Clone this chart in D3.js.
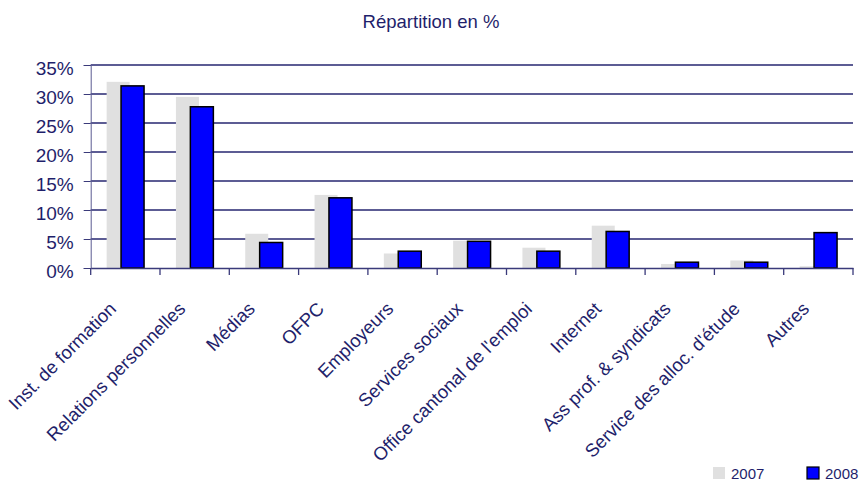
<!DOCTYPE html>
<html>
<head>
<meta charset="utf-8">
<title>Répartition en %</title>
<script src="https://cdn.jsdelivr.net/npm/d3@7"></script>
<style>
  body { margin: 0; background: #fff; }
  text { font-family: "Liberation Sans", Arial, sans-serif; fill: #1f1f6b; }
</style>
</head>
<body>
<svg id="svg"></svg>
<script>
// data
var categories = ["Inst. de formation", "Relations personnelles", "Médias", "OFPC",
                  "Employeurs", "Services sociaux", "Office cantonal de l'emploi",
                  "Internet", "Ass prof. & syndicats", "Service des alloc. d'étude", "Autres"];
var values2007 = [32.1, 29.5, 5.9, 12.6, 2.5, 4.7, 3.5, 7.3, 0.7, 1.3, 0.3];
var values2008 = [31.4, 27.8, 4.4, 12.1, 2.9, 4.6, 2.9, 6.3, 1.0, 1.0, 6.1];
var seriesNames = ["2007", "2008"];
var yTicks = [0, 5, 10, 15, 20, 25, 30, 35];
var title = "Répartition en %";

var width = 860, height = 481,
    margins = {top: 65, left: 90.7, right: 7, bottom: 213};

var svg = d3.select("#svg")
    .attr("width", width)
    .attr("height", height);

var scaleX = d3.scaleBand()
    .domain(categories)
    .range([margins.left, width - margins.right])
    .padding(0);

var scaleY = d3.scaleLinear()
    .domain([0, 35])
    .range([height - margins.bottom, margins.top]);

var bw = scaleX.bandwidth(),
    barW = bw * 0.332,
    step = bw * 0.208;

// title
svg.append("text")
    .attr("x", 431)
    .attr("y", 28)
    .style("text-anchor", "middle")
    .style("font-size", "18.5px")
    .text(title);

// gridlines
svg.append("g")
    .selectAll("line")
    .data(yTicks.slice(1))
    .enter().append("line")
    .attr("x1", margins.left)
    .attr("x2", width - margins.right)
    .attr("y1", function(d) { return scaleY(d); })
    .attr("y2", function(d) { return scaleY(d); })
    .attr("stroke", "#262670")
    .attr("stroke-width", 1.4);

// Y axis
var axisY = d3.axisLeft(scaleY)
    .tickValues(yTicks)
    .tickSize(7)
    .tickPadding(10)
    .tickFormat(function(d) { return d + "%"; });

var gY = svg.append("g")
    .attr("transform", "translate(" + margins.left + ",0)")
    .call(axisY);
gY.select(".domain").attr("stroke", "#5a5a92");
gY.selectAll(".tick line").attr("stroke", "#3a3a7a");
gY.selectAll(".tick text")
    .attr("dy", "0.5em")
    .style("font-size", "19px")
    .style("font-family", "Liberation Sans, Arial, sans-serif")
    .attr("fill", "#1f1f6b");

// bars: 2007 behind, 2008 in front
var series = [values2007, values2008];
var fills = ["#e0e0e0", "#0000ff"];

series.forEach(function(vals, i) {
    svg.append("g")
        .selectAll("rect")
        .data(vals)
        .enter().append("rect")
        .attr("x", function(d, j) {
            return scaleX(categories[j]) + bw / 2 + (i - 0.5) * step - barW / 2;
        })
        .attr("y", function(d) { return scaleY(d); })
        .attr("width", barW)
        .attr("height", function(d) { return scaleY(0) - scaleY(d); })
        .attr("fill", fills[i])
        .attr("stroke", i == 1 ? "#000" : "none")
        .attr("stroke-width", 1.5);
});

// X axis with ticks between categories
var axisX = d3.axisBottom(scaleX)
    .tickSize(0)
    .tickFormat("");

var gX = svg.append("g")
    .attr("transform", "translate(0," + scaleY(0) + ")")
    .call(axisX);
gX.select(".domain").attr("stroke", "#3a3a7a").attr("stroke-width", 1.3);

svg.append("g")
    .selectAll("line")
    .data(categories.concat(["end"]))
    .enter().append("line")
    .attr("x1", function(d, j) { return margins.left + j * bw; })
    .attr("x2", function(d, j) { return margins.left + j * bw; })
    .attr("y1", scaleY(0))
    .attr("y2", scaleY(0) + 7)
    .attr("stroke", "#3a3a7a")
    .attr("stroke-width", 1.3);

// rotated category labels
svg.append("g")
    .selectAll("text")
    .data(categories)
    .enter().append("text")
    .attr("transform", function(d) {
        return "translate(" + (scaleX(d) + bw / 2 - 8) + "," + (scaleY(0) + 42) + ")rotate(-45)";
    })
    .style("text-anchor", "end")
    .style("font-size", "18.5px")
    .text(function(d) { return d; });

// legend
var legendX = [713, 807];
seriesNames.forEach(function(name, i) {
    svg.append("rect")
        .attr("x", legendX[i])
        .attr("y", 467)
        .attr("width", 12)
        .attr("height", 12)
        .attr("fill", fills[i])
        .attr("stroke", i == 1 ? "#000" : "none")
        .attr("stroke-width", 1.2);
    svg.append("text")
        .attr("x", legendX[i] + 18)
        .attr("y", 479)
        .style("font-size", "15px")
        .text(name);
});
</script>
</body>
</html>
